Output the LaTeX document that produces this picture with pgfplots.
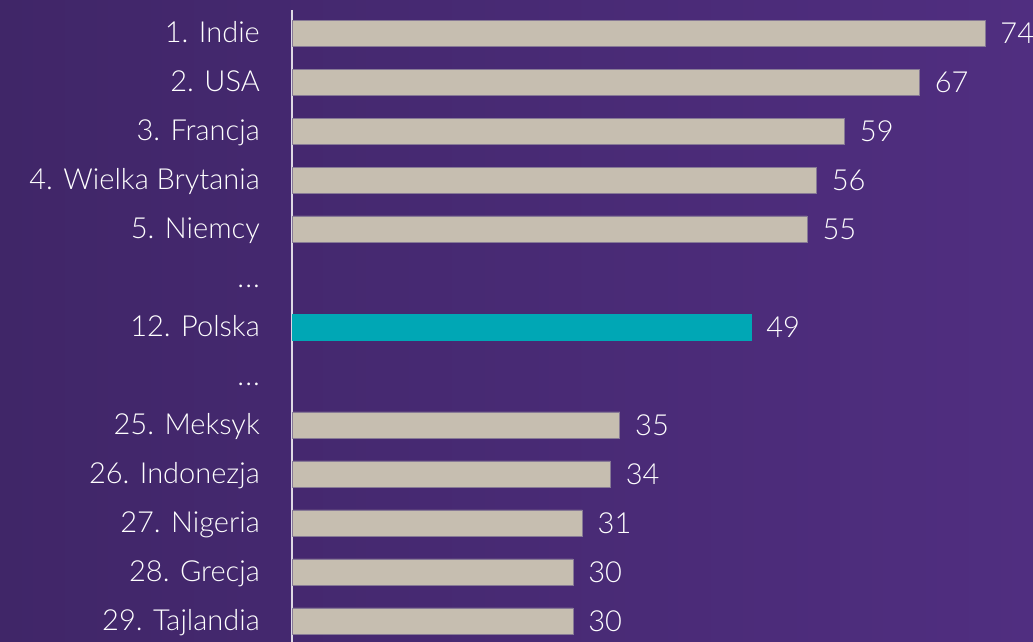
\documentclass[border=0pt]{standalone}
\usepackage{pgfplots}
\pgfplotsset{compat=1.18}
\usepackage{fontspec}
\setmainfont{Lato Light}
\definecolor{bgL}{RGB}{64,38,104}
\definecolor{bgR}{RGB}{80,46,128}
\definecolor{barC}{RGB}{198,190,176}
\definecolor{barE}{RGB}{135,122,150}
\definecolor{teal}{RGB}{0,167,181}
\definecolor{axisC}{RGB}{222,216,228}
\newcommand{\dotsl}{.\kern1pt.\kern1pt.}
\begin{document}
\begin{tikzpicture}
\shade[left color=bgL,right color=bgR] (0,0) rectangle (1033pt,642pt);
\begin{axis}[
  at={(292pt,0pt)}, anchor=south west,
  scale only axis, width=741pt, height=632pt,
  xmin=0, xmax=79.12,
  ymin=-0.47, ymax=12.43, y dir=reverse,
  axis x line=none,
  axis y line*=left,
  axis line style={axisC, line width=1.8pt},
  ytick={0,1,2,3,4,5,6,7,8,9,10,11,12},
  yticklabels={1. Indie,2. USA,3. Francja,4. Wielka Brytania,5. Niemcy,\dotsl,12. Polska,\dotsl,25. Meksyk,26. Indonezja,27. Nigeria,28. Grecja,29. Tajlandia},
  major tick length=0pt,
  /pgf/number format/assume math mode=true,
  yticklabel style={anchor=east, inner sep=0pt, xshift=-32pt, yshift=-7pt, text=white, text height=0.72em, text depth=0.22em, font=\fontsize{29}{33}\selectfont},
  xbar, bar width=26pt,
  clip=false,
  nodes near coords,
  every node near coord/.append style={anchor=west, inner sep=0pt, xshift=15pt, yshift=-8pt, text=white, text height=0.72em, text depth=0.22em, font=\fontsize{29}{33}\selectfont},
]
\addplot[fill=barC, draw=barE, line width=0.8pt, bar shift=0pt] coordinates {
  (74,0) (67,1) (59,2) (56,3) (55,4) (35,8) (34,9) (31,10) (30,11) (30,12)
};
\addplot[fill=teal, draw=teal, line width=0.8pt, bar shift=0pt] coordinates {
  (49,6)
};
\end{axis}
\pgfresetboundingbox
\useasboundingbox (0,0) rectangle (1033pt,642pt);
\end{tikzpicture}
\end{document}
